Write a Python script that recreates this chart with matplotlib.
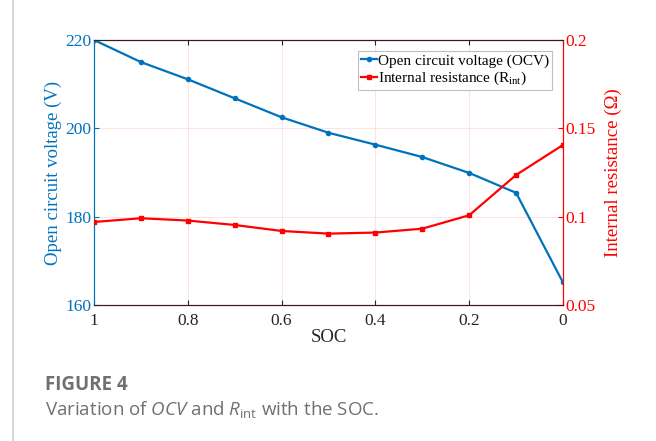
import numpy as np
import matplotlib.pyplot as plt
from matplotlib.lines import Line2D

plt.rcParams['font.family'] = ['Liberation Serif', 'DejaVu Serif']
plt.rcParams['mathtext.fontset'] = 'custom'
plt.rcParams['mathtext.rm'] = 'Liberation Serif'
plt.rcParams['mathtext.it'] = 'Open Sans:italic'
plt.rcParams['mathtext.sf'] = 'Open Sans'

soc = [1, 0.9, 0.8, 0.7, 0.6, 0.5, 0.4, 0.3, 0.2, 0.1, 0]
ocv = [220.0, 215.0, 211.1, 206.8, 202.5, 199.0, 196.3, 193.5, 189.9, 185.4, 165.1]
rint = [0.0970, 0.0991, 0.0978, 0.0953, 0.0919, 0.0904, 0.0910, 0.0932, 0.1008, 0.1236, 0.1406]

blue = '#0072BD'
red = '#FF0000'

fig = plt.figure(figsize=(6.56, 4.41), dpi=100)
ax = fig.add_axes([0.1433, 0.3084, 0.7149, 0.6009])
ax2 = ax.twinx()

ax.plot(soc, ocv, color=blue, lw=1.6, marker='.', ms=6, zorder=3)
ax2.plot(soc, rint, color=red, lw=1.6, marker='s', ms=3.5, zorder=3)

ax.set_xlim(1, 0)
ax.set_ylim(160, 220)
ax2.set_ylim(0.05, 0.2)
ax.set_xticks([1, 0.8, 0.6, 0.4, 0.2, 0])
ax.set_xticklabels(['1', '0.8', '0.6', '0.4', '0.2', '0'])
ax.set_yticks([160, 180, 200, 220])
ax2.set_yticks([0.05, 0.1, 0.15, 0.2])
ax2.set_yticklabels(['0.05', '0.1', '0.15', '0.2'])

ax.grid(True, color='#ffdede', lw=0.6)
ax.tick_params(axis='x', direction='in', top=True, labelsize=12.5, colors='#262626', pad=6)
ax.tick_params(axis='y', direction='in', labelsize=12.5, colors=blue, pad=2)
ax2.tick_params(axis='y', direction='in', labelsize=12.5, colors=red, pad=2)

for a in (ax, ax2):
    a.spines['top'].set_color('#3a1a1a')
    a.spines['bottom'].set_color('#3a1a1a')
    a.spines['left'].set_color(blue)
    a.spines['right'].set_color(red)

ax.set_xlabel('SOC', fontsize=13.5, color='#262626', labelpad=0)
ax.set_ylabel('Open circuit voltage (V)', fontsize=13.5, color=blue, labelpad=2)
ax2.set_ylabel('Internal resistance (Ω)', fontsize=13.5, color=red, labelpad=6)

handles = [Line2D([], [], color=blue, lw=1.6, marker='.', ms=6),
           Line2D([], [], color=red, lw=1.6, marker='s', ms=3.5)]
labels = ['Open circuit voltage (OCV)', r'Internal resistance (R$_{\mathrm{int}}$)']
leg = ax2.legend(handles, labels, loc='upper right', fontsize=11, fancybox=False,
                 edgecolor='#b0b0b0', handlelength=1.0, handletextpad=0.1,
                 borderpad=0.2, labelspacing=0.15, borderaxespad=0.7)
leg.get_frame().set_linewidth(0.8)

# page border and caption
fig.add_artist(Line2D([0.02, 0.02], [0, 1], color='#d0d0d0', lw=1.2))
fig.text(0.069, 0.115, 'FIGURE 4', fontsize=13.5, fontweight='bold', color='#707070',
         family='Open Sans')
fig.text(0.069, 0.058, r'Variation of $\mathit{OCV}$ and $\mathit{R}_{\mathsf{int}}$ with the SOC.',
         fontsize=13.5, color='#707070', family='Open Sans')

plt.savefig('out.png', dpi=100)
